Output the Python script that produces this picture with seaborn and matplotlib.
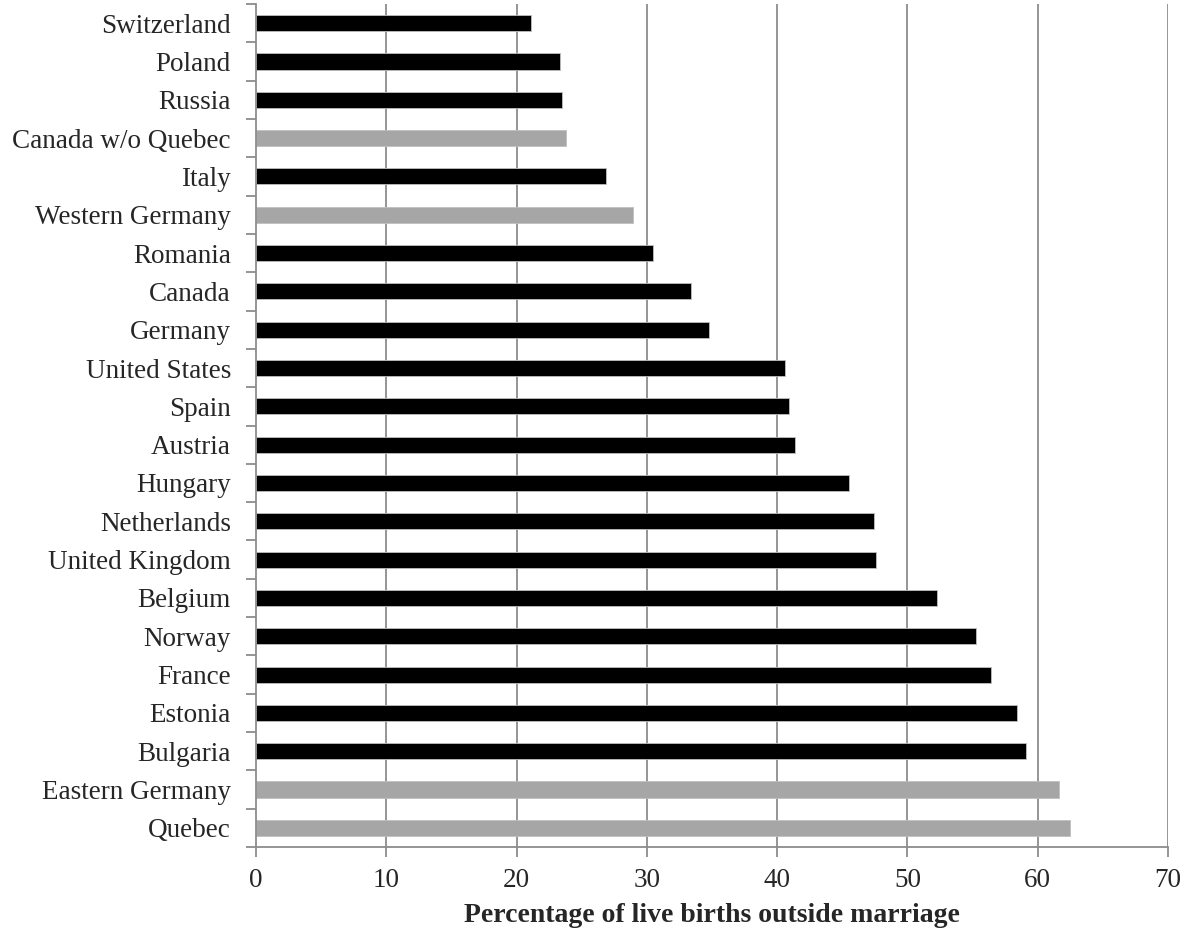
import matplotlib
matplotlib.use("Agg")
import matplotlib.pyplot as plt
import seaborn as sns
import pandas as pd
import numpy as np

countries = ["Switzerland", "Poland", "Russia", "Canada w/o Quebec", "Italy",
             "Western Germany", "Romania", "Canada", "Germany", "United States",
             "Spain", "Austria", "Hungary", "Netherlands", "United Kingdom",
             "Belgium", "Norway", "France", "Estonia", "Bulgaria",
             "Eastern Germany", "Quebec"]
pct_outside_marriage = [21.1, 23.3, 23.5, 23.8, 26.9, 28.9, 30.5, 33.4, 34.8, 40.6,
                        40.9, 41.4, 45.5, 47.4, 47.6, 52.3, 55.3, 56.4, 58.4, 59.1,
                        61.6, 62.5]
region_kind = ["country", "country", "country", "region", "country",
               "region", "country", "country", "country", "country",
               "country", "country", "country", "country", "country",
               "country", "country", "country", "country", "country",
               "region", "region"]
x_ticks = [0, 10, 20, 30, 40, 50, 60, 70]

df = pd.DataFrame({"country": countries, "pct": pct_outside_marriage, "kind": region_kind})

sns.set_theme(style="white")
plt.rcParams["font.family"] = ["Liberation Serif", "DejaVu Serif"]

fig = plt.figure(figsize=(11.84, 9.31), dpi=100)
ax = fig.add_axes([256 / 1184, 1 - 847 / 931, (1168 - 256) / 1184, (847 - 4) / 931])

sns.barplot(data=df, x="pct", y="country", hue="kind", order=countries,
            palette={"country": "#000000", "region": "#A6A6A6"},
            dodge=False, legend=False, width=0.42, orient="h",
            edgecolor="#BFBFBF", linewidth=0.6, ax=ax)

ax.set_xlim(0, 70)
ax.set_ylim(len(countries) - 0.5, -0.5)
ax.set_xticks(x_ticks)
ax.set_xticklabels([str(t) for t in x_ticks], fontsize=19.5)
ax.set_axisbelow(True)
for t in x_ticks[1:]:
    ax.axvline(t, color="#8C8C8C", linewidth=1.3, zorder=0)

# category ticks sit between bars, labels centred on bars
ax.set_yticks(np.arange(len(countries)))
ax.set_yticklabels(countries, fontsize=19.5)
ax.set_yticks(np.arange(-0.5, len(countries)), minor=True)
ax.tick_params(axis="y", which="major", length=0, pad=18)
ax.tick_params(axis="y", which="minor", length=7, width=1.3, color="#8C8C8C", direction="out", left=True)
ax.tick_params(axis="x", which="major", length=7, width=1.3, color="#8C8C8C", direction="out", bottom=True, pad=8)

for side in ["top", "right"]:
    ax.spines[side].set_visible(False)
for side in ["left", "bottom"]:
    ax.spines[side].set_color("#8C8C8C")
    ax.spines[side].set_linewidth(1.3)

ax.set_ylabel("")
ax.set_xlabel("Percentage of live births outside marriage", fontsize=20,
              fontweight="bold", labelpad=7)

fig.savefig("out.png", dpi=100, facecolor="white")
